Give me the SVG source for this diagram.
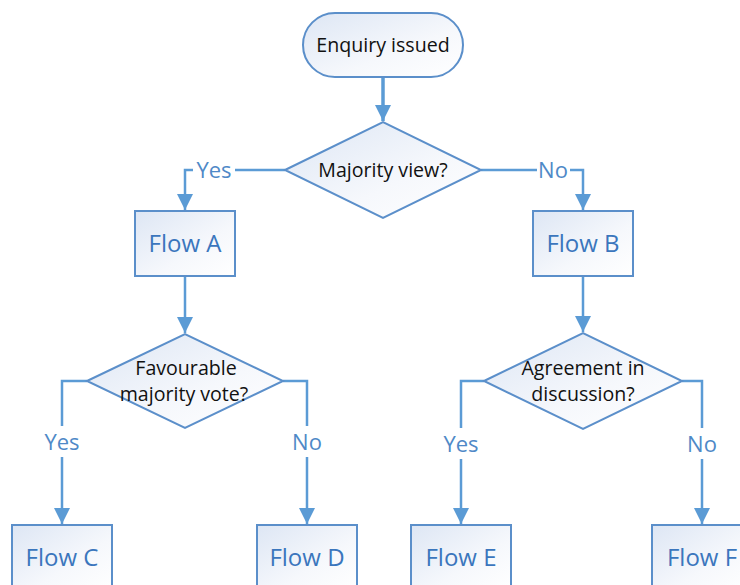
<svg xmlns="http://www.w3.org/2000/svg" width="740" height="585" viewBox="0 0 740 585">
<style>
.shape{fill:url(#g);stroke:#5b8fca;stroke-width:2}
.conn{fill:none;stroke:#5b9bd5;stroke-width:2.5}
.txt{font-family:"Open Sans",sans-serif;font-size:19.6px;fill:#111;text-anchor:middle}
.flow{font-family:"Open Sans",sans-serif;font-size:24px;fill:#3b76bd;text-anchor:middle}
.lbl{font-family:"Open Sans",sans-serif;font-size:22px;fill:#4f89c7;text-anchor:middle}
.bg{fill:#fff}
</style>
<defs>
<linearGradient id="g" x1="0" y1="0" x2="1" y2="1">
<stop offset="0" stop-color="#dde6f4"/>
<stop offset="0.6" stop-color="#f6f8fc"/>
<stop offset="1" stop-color="#ffffff"/>
</linearGradient>
<marker id="ah" markerUnits="userSpaceOnUse" markerWidth="16" markerHeight="16" viewBox="0 0 16 16" refX="16" refY="8" orient="auto">
<path d="M0,0 L16,8 L0,16 z" fill="#5b9bd5"/>
</marker>
</defs>
<rect width="740" height="585" fill="#fff"/>
<g id="connectors">
<path class="conn" style="stroke-width:3.5" d="M383,77 V121" marker-end="url(#ah)"/>
<path class="conn" d="M285,170 H185 V210" marker-end="url(#ah)"/>
<path class="conn" d="M481,170 H583 V210" marker-end="url(#ah)"/>
<path class="conn" d="M185,276 V333" marker-end="url(#ah)"/>
<path class="conn" d="M583,276 V332" marker-end="url(#ah)"/>
<path class="conn" d="M87,381 H62 V524" marker-end="url(#ah)"/>
<path class="conn" d="M283,381 H307 V524" marker-end="url(#ah)"/>
<path class="conn" d="M484,381 H461 V524" marker-end="url(#ah)"/>
<path class="conn" d="M682,381 H702 V524" marker-end="url(#ah)"/>
<rect class="bg" x="193" y="158" width="42" height="24"/>
<text class="lbl" x="214" y="178">Yes</text>
<rect class="bg" x="537" y="158" width="33" height="24"/>
<text class="lbl" x="553" y="178">No</text>
<rect class="bg" x="40" y="426" width="44" height="31"/>
<text class="lbl" x="62" y="450">Yes</text>
<rect class="bg" x="290" y="426" width="34" height="31"/>
<text class="lbl" x="307" y="450">No</text>
<rect class="bg" x="439" y="428" width="44" height="31"/>
<text class="lbl" x="461" y="452">Yes</text>
<rect class="bg" x="685" y="428" width="34" height="31"/>
<text class="lbl" x="702" y="452">No</text>
</g>
<g id="enquiry">
<rect class="shape" x="303" y="13" width="160" height="64" rx="32"/>
<text class="txt" x="383" y="52">Enquiry issued</text>
</g>
<g id="majority">
<polygon class="shape" points="285,170 383,122 481,170 383,218"/>
<text class="txt" x="383" y="177">Majority view?</text>
</g>
<g id="flowA">
<rect class="shape" x="135" y="211" width="100" height="65"/>
<text class="flow" x="185" y="252">Flow A</text>
</g>
<g id="flowB">
<rect class="shape" x="533" y="211" width="100" height="65"/>
<text class="flow" x="583" y="252">Flow B</text>
</g>
<g id="favourable">
<polygon class="shape" points="87,381 185,334 283,381 185,428"/>
<text class="txt" x="186" y="375">Favourable</text>
<text class="txt" x="184" y="401">majority vote?</text>
</g>
<g id="agreement">
<polygon class="shape" points="484,381 583,333 682,381 583,429"/>
<text class="txt" x="583" y="375">Agreement in</text>
<text class="txt" x="583" y="401">discussion?</text>
</g>
<g id="flowC">
<rect class="shape" x="12" y="525" width="100" height="65"/>
<text class="flow" x="62" y="566">Flow C</text>
</g>
<g id="flowD">
<rect class="shape" x="257" y="525" width="100" height="65"/>
<text class="flow" x="307" y="566">Flow D</text>
</g>
<g id="flowE">
<rect class="shape" x="411" y="525" width="100" height="65"/>
<text class="flow" x="461" y="566">Flow E</text>
</g>
<g id="flowF">
<rect class="shape" x="652" y="525" width="100" height="65"/>
<text class="flow" x="702" y="566">Flow F</text>
</g>
</svg>
